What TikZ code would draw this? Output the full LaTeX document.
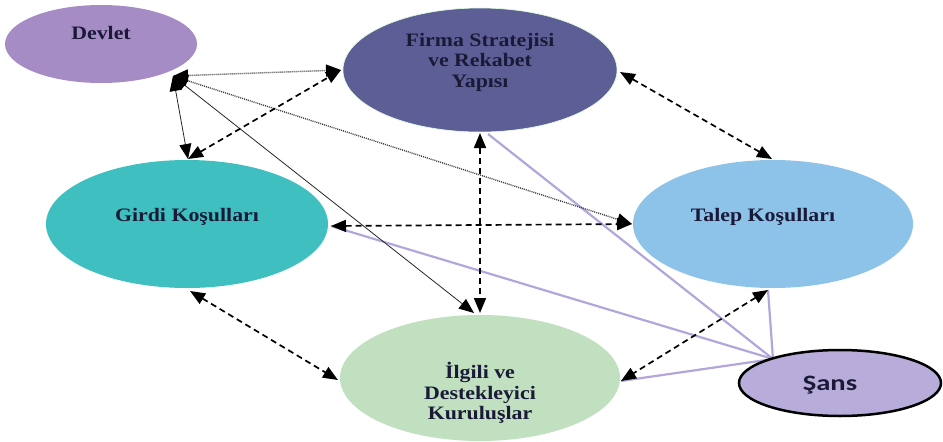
\documentclass[tikz,border=0pt]{standalone}
\usepackage{fontspec}
\setmainfont{Liberation Serif}
\newfontfamily\lblfont[FakeStretch=1.15]{Liberation Serif}
\newfontfamily\sansfontx[FakeStretch=1.3]{Carlito}
\usetikzlibrary{arrows.meta,shapes.geometric}
\definecolor{devletc}{HTML}{A68CC5}
\definecolor{firmac}{HTML}{5E5E96}
\definecolor{talepc}{HTML}{8DC3E9}
\definecolor{girdic}{HTML}{3FBFBF}
\definecolor{ilgilic}{HTML}{C0E0BF}
\definecolor{sansc}{HTML}{B8ADDA}
\definecolor{sansline}{HTML}{B3A6DA}
\definecolor{txtc}{HTML}{1A1A38}
\tikzset{
  oval/.style={ellipse, inner sep=0pt, draw=none},
  lbl/.style={font=\lblfont\bfseries\fontsize{19}{20.5}\selectfont, text=txtc, align=center},
  tip/.style={{Triangle[length=15pt,width=12pt,color=black]}-{Triangle[length=15pt,width=12pt,color=black]}},
  dashline/.style={tip, black, line width=1.7pt, dash pattern=on 6pt off 4pt},
  dotline/.style={tip, black!75, line width=1.4pt, dash pattern=on 1pt off 1pt},
  thinline/.style={tip, black!85, line width=0.8pt},
  luckline/.style={sansline, line width=2.2pt},
}
\begin{document}
\begin{tikzpicture}[x=1pt,y=-1pt]
\useasboundingbox (0,0) rectangle (943,442);
% ellipses
\node[oval, fill=devletc, minimum width=192pt, minimum height=78pt] (dev) at (101,44) {};
\node[oval, fill=firmac, draw=green!12, line width=0.6pt, minimum width=274pt, minimum height=124pt] (firma) at (480,70) {};
\node[oval, fill=talepc, minimum width=280pt, minimum height=128pt] (talep) at (773,224) {};
\node[oval, fill=girdic, minimum width=282pt, minimum height=128pt] (girdi) at (187,224) {};
\node[oval, fill=ilgilic, minimum width=280pt, minimum height=126pt] (ilgili) at (480,378) {};
% labels
\node[lbl] (devt) at (101,33) {Devlet};
\node[lbl] (firmat) at (480,62) {Firma Stratejisi\\ve Rekabet\\Yapısı};
\node[lbl] (talept) at (763,217) {Talep Koşulları};
\node[lbl] (girdit) at (187,217) {Girdi Koşulları};
\node[lbl] (ilgilit) at (480,393) {İlgili ve\\Destekleyici\\Kuruluşlar};
% connector end points
\coordinate (devp) at (173,76);
\coordinate (firL) at (341,70);
\coordinate (firR) at (620,72);
\coordinate (firB) at (480,133);
\coordinate (firBs) at (488,134);
\coordinate (girT) at (188,159);
\coordinate (girR) at (331,226);
\coordinate (girB) at (190,291);
\coordinate (talL) at (632,224);
\coordinate (talT) at (772,159);
\coordinate (talB) at (768,290);
\coordinate (ilgT) at (480,313);
\coordinate (ilgTa) at (474,313);
\coordinate (ilgL) at (338,380);
\coordinate (ilgR) at (621,381);
\coordinate (sansp) at (773,359);
% Sans lines
\draw[luckline] (sansp) -- (firBs);
\draw[luckline] (sansp) -- (girR);
\draw[luckline] (sansp) -- (talB);
\draw[luckline] (sansp) -- (ilgR);
% Devlet lines
\draw[dotline] (devp) -- (firL);
\draw[dotline] (devp) -- (talL);
\draw[thinline] (devp) -- (girT);
\draw[thinline] (devp) -- (ilgTa);
% dashed relations
\draw[dashline] (girT) -- (firL);
\draw[dashline] (firB) -- (ilgT);
\draw[dashline] (firR) -- (talT);
\draw[dashline] (girR) -- (talL);
\draw[dashline] (girB) -- (ilgL);
\draw[dashline] (talB) -- (ilgR);
% Sans node
\node[oval, fill=sansc, draw=black, line width=2.5pt, minimum width=202pt, minimum height=66pt] (sans) at (840,383) {};
\node[font=\sansfontx\bfseries\fontsize{22}{23}\selectfont, text=txtc] (sanst) at (830,385) {Şans};
\end{tikzpicture}
\end{document}
